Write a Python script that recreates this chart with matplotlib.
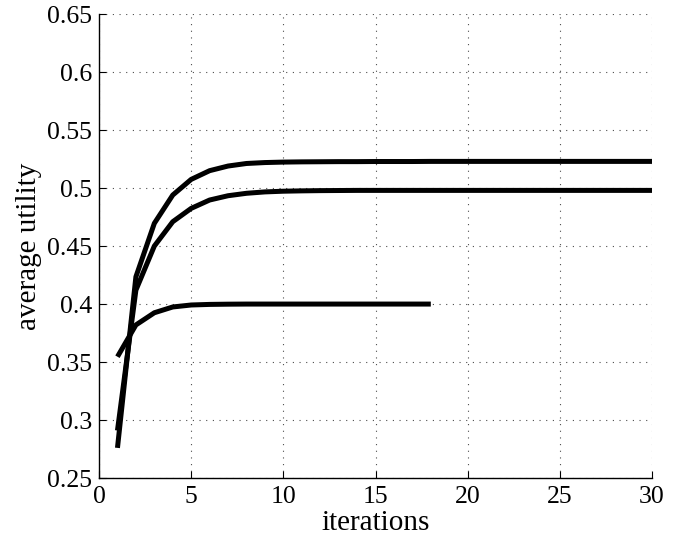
import numpy as np
import matplotlib
matplotlib.use("Agg")
import matplotlib.pyplot as plt

plt.rcParams['font.family'] = ['Liberation Serif', 'DejaVu Serif']
plt.rcParams['mathtext.fontset'] = 'stix'

# values
iters_long = list(range(1, 31))
iters_short = list(range(1, 19))

util_top = [0.276, 0.4235, 0.4696, 0.494, 0.5075, 0.515, 0.519, 0.5212, 0.522, 0.5224,
            0.5226, 0.5227, 0.5228, 0.5228, 0.5229, 0.5229, 0.5229, 0.523, 0.523, 0.523,
            0.523, 0.523, 0.523, 0.523, 0.523, 0.523, 0.523, 0.523, 0.523, 0.523]
util_mid = [0.291, 0.412, 0.45, 0.471, 0.4825, 0.4897, 0.4934, 0.4955, 0.4967, 0.4973,
            0.4976, 0.4978, 0.4979, 0.498, 0.498, 0.498, 0.498, 0.498, 0.498, 0.498,
            0.498, 0.498, 0.498, 0.498, 0.498, 0.498, 0.498, 0.498, 0.498, 0.498]
util_low = [0.3546, 0.382, 0.3925, 0.3975, 0.3992, 0.3997, 0.3999, 0.4, 0.4, 0.4,
            0.4, 0.4, 0.4, 0.4, 0.4, 0.4, 0.4, 0.4]

xticks = [0, 5, 10, 15, 20, 25, 30]
yticks = [0.25, 0.3, 0.35, 0.4, 0.45, 0.5, 0.55, 0.6, 0.65]
ytick_labels = ['0.25', '0.3', '0.35', '0.4', '0.45', '0.5', '0.55', '0.6', '0.65']

fig = plt.figure(figsize=(6.83, 5.42), dpi=100)
ax = fig.add_axes([0.145, 0.118, 0.8096, 0.856])

for xs, ys in [(iters_long, util_top), (iters_long, util_mid), (iters_short, util_low)]:
    ax.plot(xs, ys, color='black', lw=3.6, solid_capstyle='butt', zorder=3)

ax.set_xlim(0, 30)
ax.set_ylim(0.25, 0.65)
ax.set_xticks(xticks)
ax.set_yticks(yticks)
ax.set_yticklabels(ytick_labels)
ax.tick_params(direction='in', length=5, width=0.8, labelsize=18.5)
ax.tick_params(axis='x', pad=6)
ax.tick_params(axis='y', pad=5)
ax.grid(True, color='black', linestyle=(0, (1, 5)), linewidth=0.8, alpha=0.7)

for side in ['top', 'right']:
    ax.spines[side].set_visible(False)
for side in ['left', 'bottom']:
    ax.spines[side].set_linewidth(1.0)

ax.set_xlabel('iterations', fontsize=21, labelpad=1)
ax.set_ylabel('average utility', fontsize=21, labelpad=4)

fig.savefig('out.png', dpi=100)
